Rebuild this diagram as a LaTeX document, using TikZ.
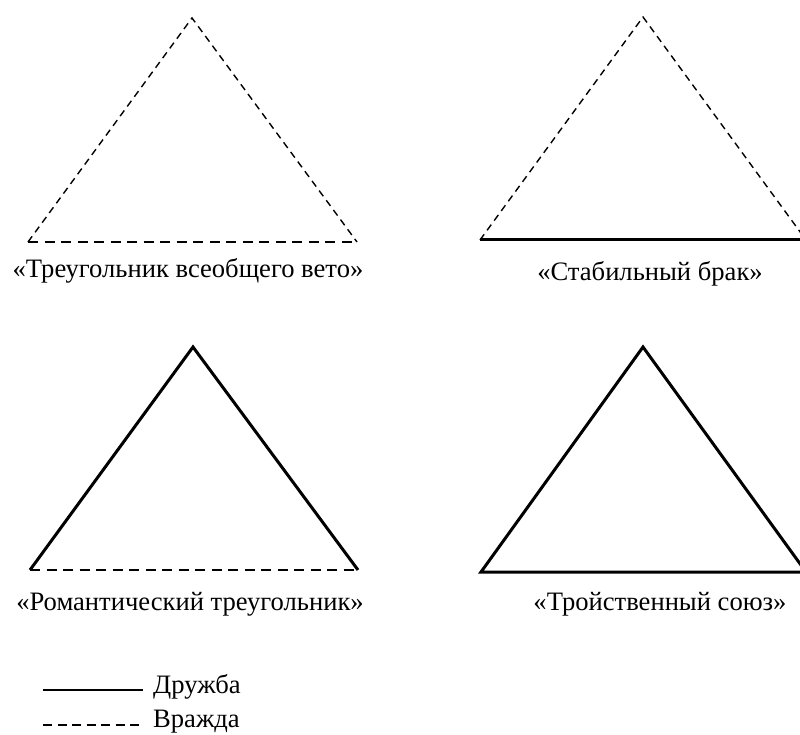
\documentclass[tikz,border=0pt]{standalone}
\usepackage{fontspec}
\setmainfont{Liberation Serif}
\tikzset{
  friend/.style={line width=3pt, line join=miter},
  enemy/.style={line width=1.4pt, dash pattern=on 7pt off 5pt},
  enemybase/.style={line width=2.2pt, dash pattern=on 10pt off 6.5pt},
  caption/.style={font=\fontsize{26.6}{32}\selectfont, inner sep=0pt}
}
\begin{document}
\begin{tikzpicture}[x=1pt,y=1pt]
  \useasboundingbox (0,0) rectangle (800,734);
  \clip (0,0) rectangle (800,734);
  % top left
  \coordinate (va) at (192,716);
  \coordinate (vb) at (28,492);
  \coordinate (vc) at (357,492);
  \draw[enemy] (vb)--(va)--(vc);
  \draw[enemybase] (vb)--(vc);
  \node[caption] (veto) at (188,463) {«Треугольник всеобщего вето»};
  % top right
  \coordinate (ba) at (643,717);
  \coordinate (bb) at (480,494);
  \coordinate (bc) at (806,494);
  \draw[enemy] (bb)--(ba)--(bc);
  \draw[friend] (bb)--(bc);
  \node[caption] (brak) at (650,460) {«Стабильный брак»};
  % bottom left
  \coordinate (ra) at (193,387);
  \coordinate (rb) at (30,164);
  \coordinate (rc) at (358,164);
  \draw[friend] (rb)--(ra)--(rc);
  \draw[enemybase] (rb)--(rc);
  \node[caption] (roman) at (190,130) {«Романтический треугольник»};
  % bottom right
  \coordinate (sa) at (643,387);
  \coordinate (sb) at (481,162);
  \coordinate (sc) at (806,162);
  \draw[friend] (sb)--(sa)--(sc)--cycle;
  \node[caption] (soyuz) at (660,130) {«Тройственный союз»};
  % legend
  \coordinate (l1) at (43,44);
  \coordinate (l2) at (143,44);
  \coordinate (l3) at (43,9);
  \coordinate (l4) at (143,9);
  \draw[line width=2.2pt] (l1)--(l2);
  \draw[line width=1.6pt, dash pattern=on 9pt off 5.5pt] (l3)--(l4);
  \node[caption, anchor=west] (druzhba) at (153,47) {Дружба};
  \node[caption, anchor=west] (vrazhda) at (153,12) {Вражда};
\end{tikzpicture}
\end{document}
